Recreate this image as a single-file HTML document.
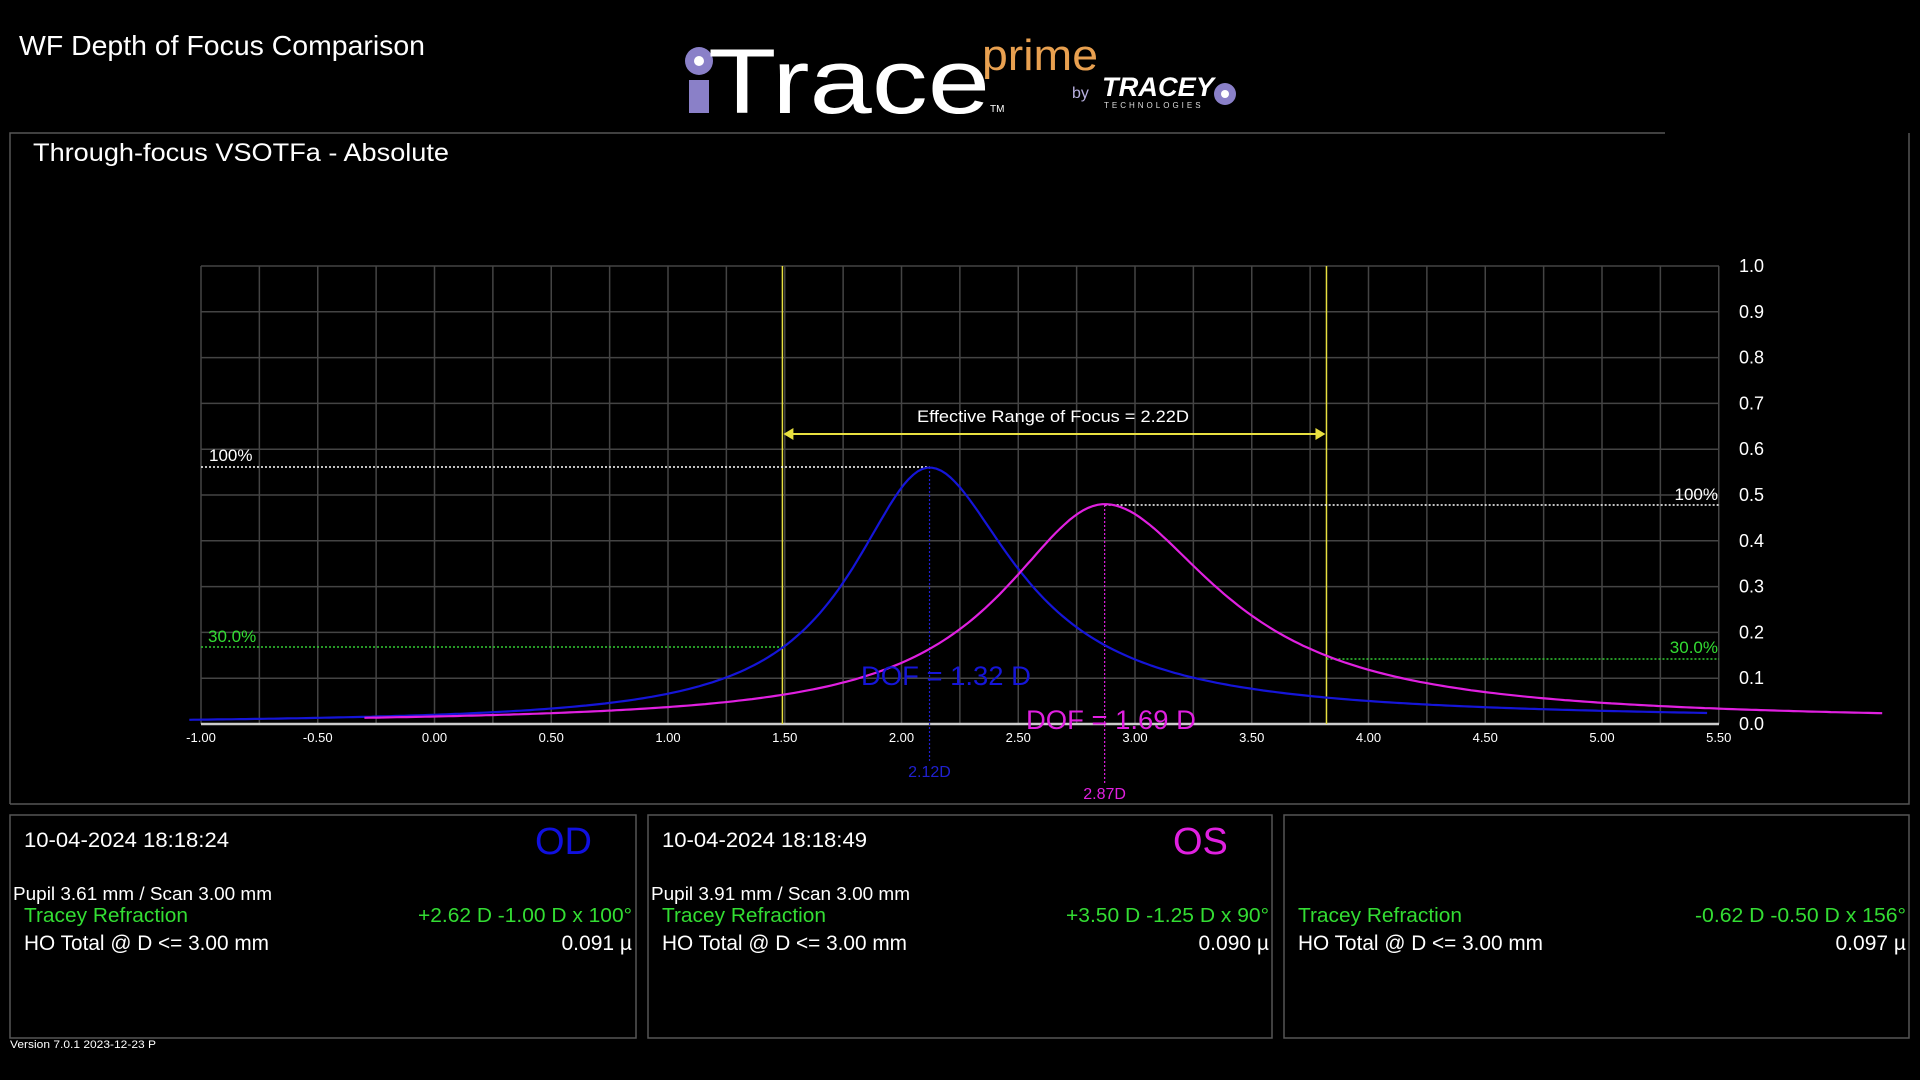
<!DOCTYPE html>
<html><head><meta charset="utf-8"><style>
html,body{margin:0;padding:0;background:#000;width:1920px;height:1080px;overflow:hidden}
svg{display:block}
text{font-family:"Liberation Sans",Arial,sans-serif}
</style></head><body>
<svg id="s" width="1920" height="1080" viewBox="0 0 1920 1080" xmlns="http://www.w3.org/2000/svg">
<rect width="1920" height="1080" fill="#000"/>
<text x="19" y="55" font-size="28" fill="#fff" textLength="406" lengthAdjust="spacingAndGlyphs">WF Depth of Focus Comparison</text>
<!-- logo -->
<circle cx="699" cy="61" r="14" fill="#8a80c8"/>
<circle cx="699" cy="61" r="5" fill="#fff"/>
<rect x="689" y="80" width="20" height="33" fill="#8a80c8"/>
<text x="708" y="113" font-size="92" fill="#fff" textLength="282" lengthAdjust="spacingAndGlyphs">Trace</text>
<text x="990" y="112" font-size="10" fill="#fff">TM</text>
<text x="982" y="70" font-size="44" fill="#e8a050" textLength="116" lengthAdjust="spacingAndGlyphs">prime</text>
<text x="1072" y="98" font-size="16" fill="#b8b0e0">by</text>
<text x="1102" y="96" font-size="27" fill="#fff" font-weight="bold" font-style="italic" textLength="112" lengthAdjust="spacingAndGlyphs">TRACEY</text>
<text x="1104" y="108" font-size="8" fill="#ddd" letter-spacing="3">TECHNOLOGIES</text>
<circle cx="1225" cy="94" r="11" fill="#8a80c8"/><circle cx="1225" cy="94" r="4" fill="#fff"/>
<!-- top panel -->
<path d="M10 804 V133 H1665" fill="none" stroke="#555" stroke-width="1.5"/>
<path d="M10 804 H1909 V133" fill="none" stroke="#555" stroke-width="1.5"/>
<text x="33" y="161" font-size="25" fill="#fff" textLength="416" lengthAdjust="spacingAndGlyphs">Through-focus VSOTFa  - Absolute</text>
<g id="grid"></g>
<g id="curves"></g>
<!-- bottom panels -->
<rect x="10" y="815" width="626" height="223" fill="none" stroke="#555" stroke-width="1.5"/>
<rect x="648" y="815" width="624" height="223" fill="none" stroke="#555" stroke-width="1.5"/>
<rect x="1284" y="815" width="625" height="223" fill="none" stroke="#555" stroke-width="1.5"/>
<g font-size="21" fill="#fff">
<text x="24" y="847" textLength="205" lengthAdjust="spacingAndGlyphs">10-04-2024  18:18:24</text>
<text x="662" y="847" textLength="205" lengthAdjust="spacingAndGlyphs">10-04-2024  18:18:49</text>
</g>
<text x="535" y="854" font-size="38" fill="#1010e0">OD</text>
<text x="1173" y="854" font-size="38" fill="#e020e0">OS</text>
<g font-size="18" fill="#fff">
<text x="13" y="900" textLength="259" lengthAdjust="spacingAndGlyphs">Pupil 3.61 mm  /  Scan 3.00 mm</text>
<text x="651" y="900" textLength="259" lengthAdjust="spacingAndGlyphs">Pupil 3.91 mm  /  Scan 3.00 mm</text>
</g>
<g font-size="20" fill="#33dd33">
<text x="24" y="922" textLength="164" lengthAdjust="spacingAndGlyphs">Tracey Refraction</text>
<text x="662" y="922" textLength="164" lengthAdjust="spacingAndGlyphs">Tracey Refraction</text>
<text x="1298" y="922" textLength="164" lengthAdjust="spacingAndGlyphs">Tracey Refraction</text>
<text x="418" y="922" textLength="214" lengthAdjust="spacingAndGlyphs">+2.62 D -1.00 D x 100°</text>
<text x="1066" y="922" textLength="203" lengthAdjust="spacingAndGlyphs">+3.50 D -1.25 D x 90°</text>
<text x="1695" y="922" textLength="211" lengthAdjust="spacingAndGlyphs">-0.62 D -0.50 D x 156°</text>
</g>
<g font-size="21" fill="#fff">
<text x="24" y="950" textLength="245" lengthAdjust="spacingAndGlyphs">HO Total @ D &lt;= 3.00 mm</text>
<text x="662" y="950" textLength="245" lengthAdjust="spacingAndGlyphs">HO Total @ D &lt;= 3.00 mm</text>
<text x="1298" y="950" textLength="245" lengthAdjust="spacingAndGlyphs">HO Total @ D &lt;= 3.00 mm</text>
<g text-anchor="end">
<text x="632" y="950">0.091 µ</text>
<text x="1269" y="950">0.090 µ</text>
<text x="1906" y="950">0.097 µ</text>
</g></g>
<text x="10" y="1048" font-size="11" fill="#fff" textLength="146" lengthAdjust="spacingAndGlyphs">Version 7.0.1 2023-12-23 P</text>
</svg>
<script>
var NS="http://www.w3.org/2000/svg";
function X(d){return 201+(d+1)*233.5;}
function Y(v){return 724-v*458;}
function el(p,t,a,txt){var e=document.createElementNS(NS,t);for(var k in a)e.setAttribute(k,a[k]);if(txt!==undefined)e.textContent=txt;p.appendChild(e);return e;}
var g=document.getElementById('grid');
for(var i=0;i<=26;i++){var x=X(-1+i*0.25);el(g,'line',{x1:x,y1:266,x2:x,y2:724,stroke:'#444','stroke-width':1.5});}
for(var j=1;j<=10;j++){var y=Y(j/10);el(g,'line',{x1:201,y1:y,x2:1719,y2:y,stroke:'#444','stroke-width':1.5});}
el(g,'line',{x1:201,y1:724,x2:1719,y2:724,stroke:'#ccc','stroke-width':2.5});
for(var j=0;j<=10;j++){el(g,'text',{x:1739,y:Y(j/10)+6,'font-size':18,fill:'#fff'},(j/10).toFixed(1));}
for(var i=0;i<=13;i++){var d=-1+i*0.5;el(g,'text',{x:X(d),y:742,'font-size':13,fill:'#fff','text-anchor':'middle'},d.toFixed(2));}
var c=document.getElementById('curves');
el(c,'line',{x1:X(1.49),y1:266,x2:X(1.49),y2:724,stroke:'#e8e040','stroke-width':1.5});
el(c,'line',{x1:X(3.82),y1:266,x2:X(3.82),y2:724,stroke:'#e8e040','stroke-width':1.5});
el(c,'line',{x1:X(1.49)+8,y1:434,x2:X(3.82)-8,y2:434,stroke:'#e8e040','stroke-width':2});
el(c,'path',{d:'M'+(X(1.49)+1)+' 434 l10 -6 v12 z',fill:'#e8e040'});
el(c,'path',{d:'M'+(X(3.82)-1)+' 434 l-10 -6 v12 z',fill:'#e8e040'});
el(c,'text',{x:917,y:422,'font-size':17,fill:'#fff',textLength:272,lengthAdjust:'spacingAndGlyphs'},'Effective Range of Focus = 2.22D');
el(c,'line',{x1:201,y1:467,x2:X(2.12),y2:467,stroke:'#fff','stroke-width':1.5,'stroke-dasharray':'2 2'});
el(c,'text',{x:209,y:461,'font-size':17,fill:'#fff'},'100%');
el(c,'line',{x1:X(2.87),y1:505,x2:1719,y2:505,stroke:'#fff','stroke-width':1.5,'stroke-dasharray':'2 2'});
el(c,'text',{x:1718,y:500,'font-size':17,fill:'#fff','text-anchor':'end'},'100%');
el(c,'line',{x1:201,y1:647,x2:X(1.49),y2:647,stroke:'#33cc33','stroke-width':1.5,'stroke-dasharray':'2 2'});
el(c,'text',{x:208,y:642,'font-size':17,fill:'#33dd33'},'30.0%');
el(c,'line',{x1:X(3.82),y1:659,x2:1719,y2:659,stroke:'#33cc33','stroke-width':1.5,'stroke-dasharray':'2 2'});
el(c,'text',{x:1718,y:653,'font-size':17,fill:'#33dd33','text-anchor':'end'},'30.0%');
el(c,'line',{x1:X(2.12),y1:467,x2:X(2.12),y2:762,stroke:'#2020d0','stroke-width':1.2,'stroke-dasharray':'2 2'});
el(c,'text',{x:X(2.12),y:777,'font-size':16,fill:'#2020d0','text-anchor':'middle'},'2.12D');
el(c,'line',{x1:X(2.87),y1:505,x2:X(2.87),y2:785,stroke:'#e020e0','stroke-width':1.2,'stroke-dasharray':'2 2'});
el(c,'text',{x:X(2.87),y:799,'font-size':16,fill:'#e020e0','text-anchor':'middle'},'2.87D');
function curve(p,A,wl,wr0,wr1,d0,d1,col){var s='';for(var d=d0;d<=d1+1e-9;d+=0.02){var t=d-p;var w=t<0?wl:wr0+wr1*t;var v=A/(1+(t/w)*(t/w));s+=(s?'L':'M')+X(d).toFixed(1)+' '+Y(v).toFixed(1);}el(c,'path',{d:s,fill:'none',stroke:col,'stroke-width':2.2});}
curve(2.12,0.56,0.41,0.44,0.08,-1.05,5.45,'#1515d8');
curve(2.87,0.48,0.54,0.59,0.05,-0.3,6.2,'#e020e0');
el(c,'text',{x:861,y:685,'font-size':27,fill:'#1515d8',textLength:170,lengthAdjust:'spacingAndGlyphs'},'DOF = 1.32 D');
el(c,'text',{x:1026,y:729,'font-size':27,fill:'#e020e0',textLength:170,lengthAdjust:'spacingAndGlyphs'},'DOF = 1.69 D');
</script>
</body></html>
